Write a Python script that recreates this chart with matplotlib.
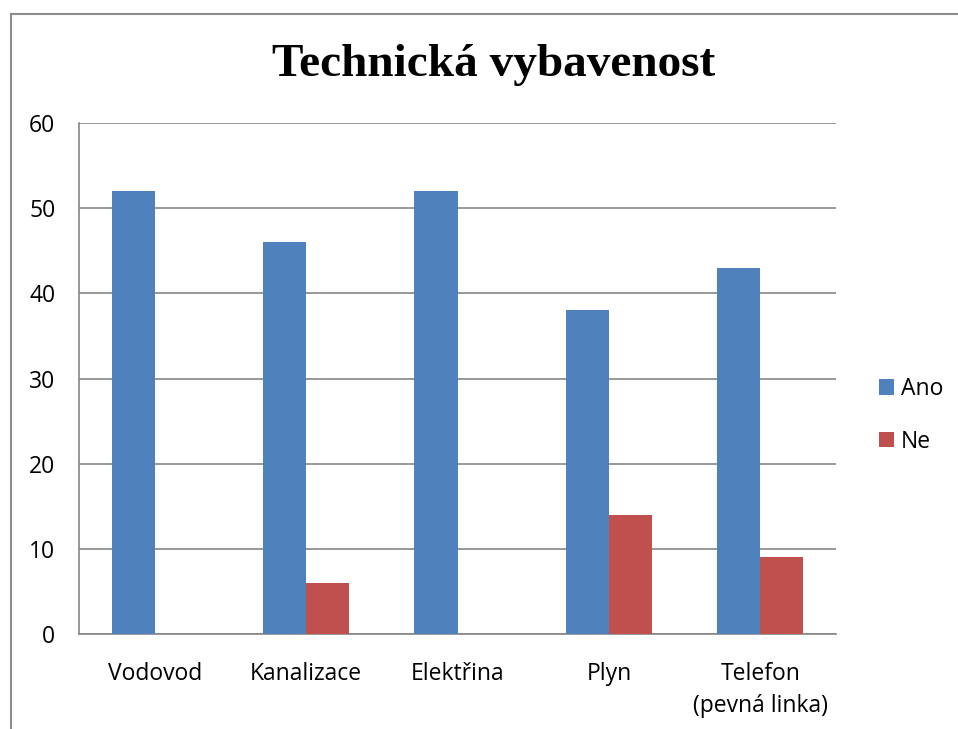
import matplotlib.pyplot as plt
import numpy as np
from matplotlib.lines import Line2D

categories = ["Vodovod", "Kanalizace", "Elektřina", "Plyn", "Telefon\n(pevná linka)"]
ano = [52, 46, 52, 38, 43]
ne = [0, 6, 0, 14, 9]

blue = "#4F81BD"
red = "#C0504D"
grid_col = "#868686"

fig = plt.figure(figsize=(9.58, 7.29), dpi=100)
ax = fig.add_axes([79 / 958, 1 - 634 / 729, (836 - 79) / 958, (634 - 123) / 729])

x = np.arange(len(categories))
w = 0.285
ax.bar(x - w / 2, ano, w, color=blue, label="Ano", zorder=3)
ax.bar(x + w / 2, ne, w, color=red, label="Ne", zorder=3)

ax.set_xlim(-0.5, len(categories) - 0.5)
ax.set_ylim(0, 60)
ax.set_yticks(range(0, 61, 10))
ax.set_xticks(x)
ax.set_xticklabels(categories, linespacing=1.45)
ax.tick_params(length=0, labelsize=16.5)
ax.tick_params(axis="x", pad=20)
ax.tick_params(axis="y", pad=17)
for lab in ax.get_xticklabels() + ax.get_yticklabels():
    lab.set_fontfamily("Open Sans")
ax.yaxis.grid(True, color=grid_col, linewidth=1.2, zorder=0)
for s in ["top", "right"]:
    ax.spines[s].set_visible(False)
for s in ["left", "bottom"]:
    ax.spines[s].set_color(grid_col)
    ax.spines[s].set_linewidth(1.2)

leg = ax.legend(loc="center left", bbox_to_anchor=(1.03, 0.428), frameon=False,
                prop={"family": "Open Sans", "size": 16.5}, handlelength=0.65,
                handleheight=0.65, handletextpad=0.3, labelspacing=1.25)

fig.text(494 / 958, 1 - 65 / 729, "Technická vybavenost", ha="center", va="center",
         fontsize=34, fontweight="bold", family="Liberation Serif")

# outer frame (left and top edges)
fig.add_artist(Line2D([10.5 / 958, 10.5 / 958], [0, 1 - 14 / 729], color="#8C8C8C", lw=1.5))
fig.add_artist(Line2D([10.5 / 958, 1], [1 - 14 / 729, 1 - 14 / 729], color="#8C8C8C", lw=1.5))

fig.savefig("out.png", dpi=100)
